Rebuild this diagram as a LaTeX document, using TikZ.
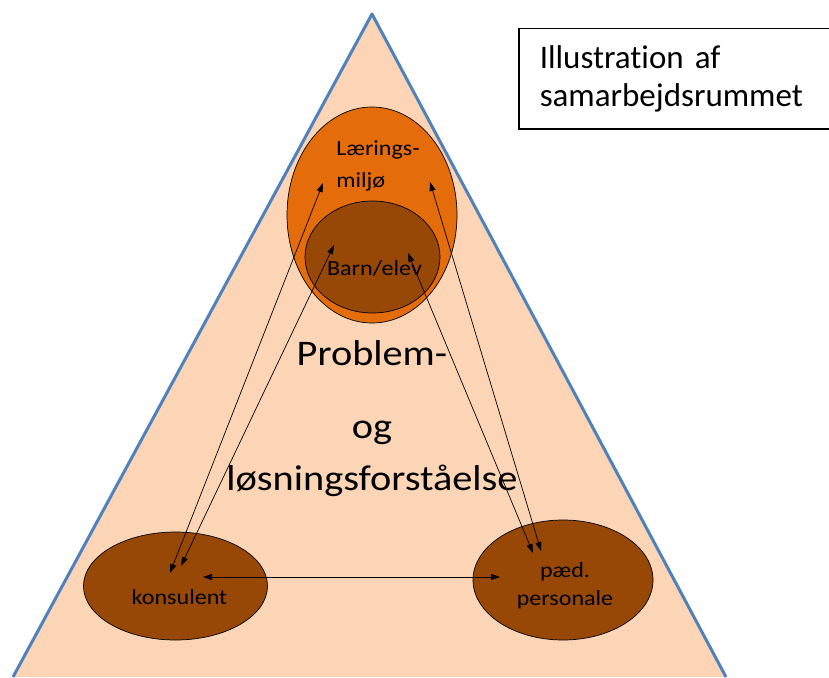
\documentclass[tikz,border=0pt]{standalone}
\usepackage{fontspec}
\setmainfont{Carlito}[Ligatures=NoCommon]
\newfontfamily\widefont{Carlito}[Ligatures=NoCommon, FakeStretch=1.12]
\usetikzlibrary{
    arrows.meta,
    positioning,
    shapes.geometric,
}
\definecolor{peach}{HTML}{FBD5B5}
\definecolor{edgeblue}{HTML}{4F81BD}
\definecolor{orangefill}{HTML}{E46C0A}
\definecolor{brownfill}{HTML}{974806}
\tikzstyle{arrow}=[{Triangle[length=9pt, width=6pt]}-{Triangle[length=9pt, width=6pt]}, line width=0.7pt]
\tikzset{
    blob/.style={draw=black, line width=0.7pt, ellipse, inner sep=0pt},
    lbl/.style={font=\widefont\fontsize{21.5}{30}\selectfont, align=center, inner sep=0pt},
    bigtxt/.style={font=\widefont\fontsize{36}{44}\selectfont, inner sep=0pt, anchor=base},
}

\begin{document}
\begin{tikzpicture}[x=1pt, y=-1pt]
            \useasboundingbox (0,0) rectangle (829,677);
            \filldraw[fill=peach, draw=edgeblue, line width=3pt, line join=round] (13,677) -- (372,14) -- (726,677);
            \node[blob, fill=orangefill, minimum width=170pt, minimum height=216pt] (miljo) at (372,215) {};
            \node[blob, fill=brownfill, minimum width=135pt, minimum height=112pt] (barn) at (372.5,257) {};
            \node[blob, fill=brownfill, minimum width=184pt, minimum height=108pt] (konsulent) at (175.5,586) {};
            \node[blob, fill=brownfill, minimum width=180pt, minimum height=120pt] (paed) at (563,580) {};
            \node[lbl, align=left, font=\widefont\fontsize{21.5}{32}\selectfont] (miljotxt) at (378,166) {Lærings-\\miljø};
            \node[lbl] (barntxt) at ([yshift=-11pt, xshift=2pt]barn.center) {Barn/elev};
            \node[lbl] (konsulenttxt) at ([yshift=-11pt, xshift=4pt]konsulent.center) {konsulent};
            \node[lbl, font=\widefont\fontsize{21.5}{28}\selectfont] (paedtxt) at ([yshift=-6pt, xshift=2pt]paed.center) {pæd.\\personale};
            \node[bigtxt] (problem) at (372,365) {Problem-};
            \node[bigtxt, below=73pt of problem.base, anchor=base] (og) {og};
            \node[bigtxt, below=52pt of og.base, anchor=base] (losning) {løsningsforståelse};
            \node[draw, line width=1.5pt, anchor=north west, minimum width=320pt, minimum height=100pt,
                  text width=290pt, inner xsep=21pt, align=left, font=\fontsize{33}{38}\selectfont] (title) at (518,28) {Illustration af\\samarbejdsrummet};
            \draw[arrow] ([shift={(-5.5,-13)}]konsulent.center) -- ([shift={(-49,-32)}]miljo.center);
            \draw[arrow] ([shift={(5.5,-20)}]konsulent.center) -- ([shift={(-38.5,-12)}]barn.center);
            \draw[arrow] ([shift={(27.5,-9)}]konsulent.center) -- ([shift={(-63,-3)}]paed.center);
            \draw[arrow] ([shift={(58,-33)}]miljo.center) -- ([shift={(-22,-29)}]paed.center);
            \draw[arrow] ([shift={(35.5,-4)}]barn.center) -- ([shift={(-30,-27)}]paed.center);
        \end{tikzpicture}
\end{document}
